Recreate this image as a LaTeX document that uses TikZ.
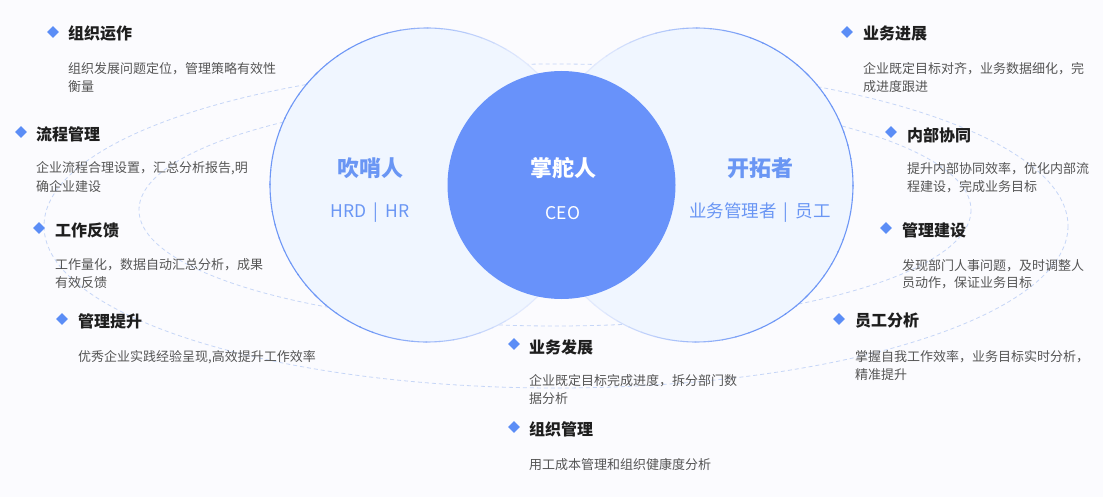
\documentclass[tikz,border=0pt]{standalone}
\usepackage{fontspec}
\setmainfont{Noto Sans CJK SC}
\usetikzlibrary{shapes.geometric}
\definecolor{bgc}{HTML}{FBFBFE}
\definecolor{accent}{HTML}{5B8DF6}
\definecolor{core}{HTML}{6892FA}
\definecolor{lightfill}{HTML}{F0F6FF}
\definecolor{cstrong}{HTML}{6E97F6}
\definecolor{clight}{HTML}{E1E9FD}
\definecolor{dashc}{HTML}{C6D6F7}
\definecolor{labc}{HTML}{6A96F4}
\definecolor{titlec}{HTML}{1E1E1E}
\definecolor{descc}{HTML}{555555}
\tikzset{
  dia/.style={diamond, fill=accent, minimum size=12pt, inner sep=0pt},
  ttl/.style={anchor=west, inner sep=0pt, text=titlec, font=\bfseries\fontsize{16}{18}\selectfont},
  dsc/.style={anchor=west, inner sep=0pt, text=descc, font=\fontsize{13}{15}\selectfont},
  ring/.style={dashed, dash pattern=on 4pt off 3pt, draw=dashc, line width=0.8pt},
  side/.style={circle, fill=lightfill, minimum size=314pt, inner sep=0pt},
  big/.style={text=labc, font=\bfseries\fontsize{22}{24}\selectfont, inner sep=0pt},
  sub/.style={text=labc, font=\fontsize{17.5}{20}\selectfont, inner sep=0pt},
}
\begin{document}
\begin{tikzpicture}[x=1pt, y=-1pt]
\useasboundingbox (0,0) rectangle (1103,497);
\fill[bgc] (0,0) rectangle (1103,497);
% dashed rings
\draw[ring] (556,226) ellipse [x radius=512, y radius=162];
\draw[ring] (555,210) ellipse [x radius=416, y radius=116];
% side circles
\node[side] (L) at (427,185) {};
\node[side] (R) at (696,185) {};
\foreach \a in {0,5,...,355}{
  \pgfmathsetmacro\p{max(0,min(100,100*(0.6-cos(\a+2.5))))}
  \draw[line width=1.1pt, color=cstrong!\p!clight] (L.center) ++(\a:157) arc[start angle=\a, end angle=\a+5.5, radius=157];
  \pgfmathsetmacro\q{max(0,min(100,100*(0.6+cos(\a+2.5))))}
  \draw[line width=1.1pt, color=cstrong!\q!clight] (R.center) ++(\a:157) arc[start angle=\a, end angle=\a+5.5, radius=157];
}
% core circle
\node[circle, fill=core, minimum size=228pt, inner sep=0pt] (C) at (561.5,185) {};
% circle labels
\node[big] (lt) at (370,168) {吹哨人};
\node[sub] (ls) at (370,213) {HRD\hspace{0.4em}|\hspace{0.4em}HR};
\node[big, text=white] (ct) at (563,168) {掌舵人};
\node[sub, text=white] (cs) at (563,213) {CEO};
\node[big] (rt) at (760,168) {开拓者};
\node[sub] (rs) at (760,213) {业务管理者\hspace{0.4em}|\hspace{0.4em}员工};
% left items
\node[dia] (d1) at (53,32) {};
\node[ttl] (t1) at (68,33) {组织运作};
\node[dsc] (a1) at (68,69) {组织发展问题定位，管理策略有效性};
\node[dsc] (b1) at (68,87) {衡量};
\node[dia] (d2) at (21,132) {};
\node[ttl] (t2) at (36,134) {流程管理};
\node[dsc] (a2) at (36,168) {企业流程合理设置，汇总分析报告,明};
\node[dsc] (b2) at (36,187) {确企业建设};
\node[dia] (d3) at (39,228) {};
\node[ttl] (t3) at (55,230) {工作反馈};
\node[dsc] (a3) at (55,265) {工作量化，数据自动汇总分析，成果};
\node[dsc] (b3) at (55,283) {有效反馈};
\node[dia] (d4) at (62,319) {};
\node[ttl] (t4) at (78,321) {管理提升};
\node[dsc] (a4) at (78,357) {优秀企业实践经验呈现,高效提升工作效率};
% bottom items
\node[dia] (d5) at (514,344) {};
\node[ttl] (t5) at (529,347) {业务发展};
\node[dsc] (a5) at (529,381) {企业既定目标完成进度，拆分部门数};
\node[dsc] (b5) at (529,399) {据分析};
\node[dia] (d6) at (514,427) {};
\node[ttl] (t6) at (529,429) {组织管理};
\node[dsc] (a6) at (529,465) {用工成本管理和组织健康度分析};
% right items
\node[dia] (d7) at (847,32) {};
\node[ttl] (t7) at (863,33) {业务进展};
\node[dsc] (a7) at (863,69) {企业既定目标对齐，业务数据细化，完};
\node[dsc] (b7) at (863,87) {成进度跟进};
\node[dia] (d8) at (891,132) {};
\node[ttl] (t8) at (907,135) {内部协同};
\node[dsc] (a8) at (907,169) {提升内部协同效率，优化内部流};
\node[dsc] (b8) at (907,187) {程建设，完成业务目标};
\node[dia] (d9) at (886,228) {};
\node[ttl] (t9) at (902,230) {管理建设};
\node[dsc] (a9) at (902,266) {发现部门人事问题，及时调整人};
\node[dsc] (b9) at (902,283) {员动作，保证业务目标};
\node[dia] (d10) at (839,319) {};
\node[ttl] (t10) at (855,321) {员工分析};
\node[dsc] (a10) at (855,357) {掌握自我工作效率，业务目标实时分析，};
\node[dsc] (b10) at (855,375) {精准提升};
\end{tikzpicture}
\end{document}
